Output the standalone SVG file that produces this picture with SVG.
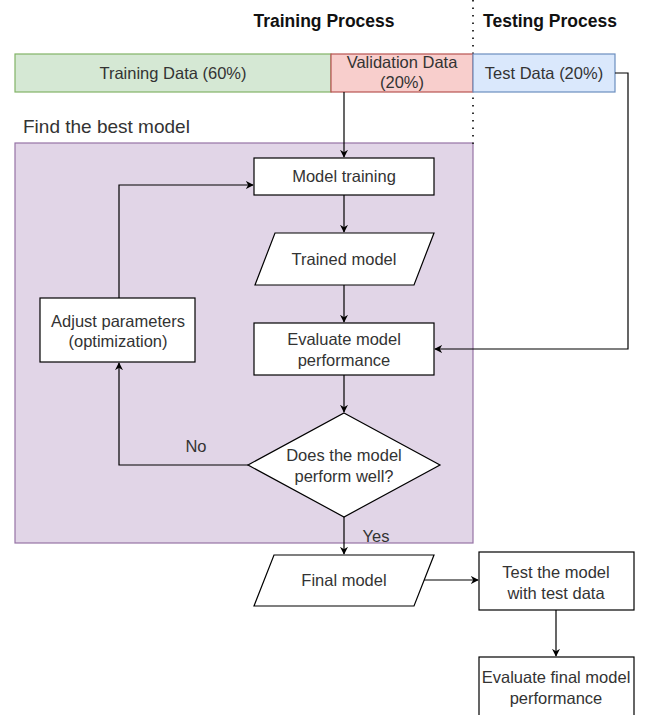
<svg xmlns="http://www.w3.org/2000/svg" width="646" height="715" viewBox="0 0 646 715">
<defs>
<marker id="arr" viewBox="0 0 10 10" refX="9" refY="5" markerWidth="8" markerHeight="8" markerUnits="userSpaceOnUse" orient="auto">
<path d="M0,0 L10,5 L0,10 L3,5 Z" fill="#000"/>
</marker>
<style>
text{font-family:"Liberation Sans",Arial,sans-serif;font-size:16.5px;fill:#333;text-anchor:middle}
.b{font-weight:bold;fill:#111;font-size:17.5px}
.n{fill:#fff;stroke:#000;stroke-width:1.2}
.c{fill:none;stroke:#000;stroke-width:1.2}
</style>
</defs>
<rect width="646" height="715" fill="#fff"/>
<text class="b" x="324" y="27">Training Process</text>
<text class="b" x="550" y="27">Testing Process</text>
<g id="container">
<rect x="15" y="143" width="458" height="400" fill="#e1d5e7" stroke="#9673a6" stroke-width="1.2"/>
<text x="23" y="133" style="text-anchor:start;font-size:19px">Find the best model</text>
</g>
<line x1="473" y1="0" x2="473" y2="150" stroke="#333" stroke-width="2" stroke-dasharray="1.5,6"/>
<g id="training-data"><rect x="15" y="54" width="316" height="38" fill="#d5e8d4" stroke="#82b366" stroke-width="1.2"/><text x="173" y="79">Training Data (60%)</text></g>
<g id="validation-data"><rect x="331" y="54" width="142" height="38" fill="#f8cecc" stroke="#b85450" stroke-width="1.2"/><text x="402" y="68">Validation Data</text><text x="402" y="88">(20%)</text></g>
<g id="test-data"><rect x="473" y="54" width="142" height="38" fill="#dae8fc" stroke="#6c8ebf" stroke-width="1.2"/><text x="544" y="79">Test Data (20%)</text></g>
<g id="connectors">
<path class="c" d="M344,92 V157" marker-end="url(#arr)"/>
<path class="c" d="M344,195 V232" marker-end="url(#arr)"/>
<path class="c" d="M344,285 V322" marker-end="url(#arr)"/>
<path class="c" d="M344,375 V412" marker-end="url(#arr)"/>
<path class="c" d="M248,465 H119 V363" marker-end="url(#arr)"/>
<path class="c" d="M119,298 V185 H253" marker-end="url(#arr)"/>
<path class="c" d="M615,73 H628 V349 H435" marker-end="url(#arr)"/>
<path class="c" d="M344,517 V554" marker-end="url(#arr)"/>
<path class="c" d="M424,580 H478" marker-end="url(#arr)"/>
<path class="c" d="M556,610 V656" marker-end="url(#arr)"/>
<text x="196" y="452">No</text>
<text x="376" y="542">Yes</text>
</g>
<g id="model-training"><rect class="n" x="254" y="158" width="180" height="37"/><text x="344" y="182">Model training</text></g>
<g id="trained-model"><polygon class="n" points="275,233 434,233 414,285 255,285"/><text x="344" y="265">Trained model</text></g>
<g id="evaluate-model"><rect class="n" x="254" y="323" width="180" height="52"/><text x="344" y="345">Evaluate model</text><text x="344" y="366">performance</text></g>
<g id="adjust-params"><rect class="n" x="40" y="298" width="155" height="64"/><text x="118" y="327">Adjust parameters</text><text x="118" y="347">(optimization)</text></g>
<g id="decision"><polygon class="n" points="344,413 440,465 344,517 248,465"/><text x="344" y="461">Does the model</text><text x="344" y="482">perform well?</text></g>
<g id="final-model"><polygon class="n" points="274,555 434,555 414,606 254,606"/><text x="344" y="586">Final model</text></g>
<g id="test-model"><rect class="n" x="479" y="552" width="155" height="58"/><text x="556" y="578">Test the model</text><text x="556" y="599">with test data</text></g>
<g id="evaluate-final"><rect class="n" x="479" y="657" width="155" height="62"/><text x="556" y="683">Evaluate final model</text><text x="556" y="704">performance</text></g>
</svg>
